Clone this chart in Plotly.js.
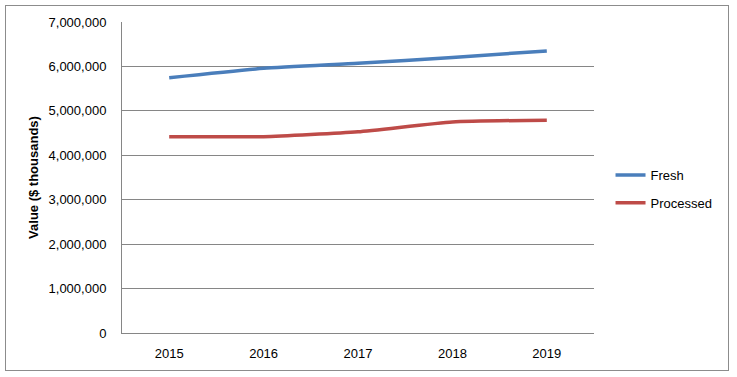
<!DOCTYPE html>
<html>
<head>
<meta charset="utf-8">
<script src="https://cdn.plot.ly/plotly-3.0.1.min.js"></script>
<style>
html,body{margin:0;padding:0;background:#fff;}
#wrap{position:relative;width:737px;height:377px;}
#frame{position:absolute;left:5px;top:5px;width:724px;height:366px;border:1px solid #8c8c8c;box-sizing:border-box;pointer-events:none;}
#chart{position:absolute;left:0;top:0;width:737px;height:377px;}
</style>
</head>
<body>
<div id="wrap">
<div id="chart"></div>
<div id="frame"></div>
</div>
<script>
const years = ['2015','2016','2017','2018','2019'];
const fresh = [5746000, 5957000, 6070000, 6200000, 6350000];
const processed = [4420000, 4420000, 4530000, 4750000, 4790000];
const yTicks = [0,1000000,2000000,3000000,4000000,5000000,6000000,7000000];

const traces = [
  {x: years, y: fresh, name: 'Fresh', type: 'scatter', mode: 'lines',
   line: {color: '#4a7ebb', width: 3.5, shape: 'spline', smoothing: 0.5}, legendgroup: 'a'},
  {x: years, y: processed, name: 'Processed', type: 'scatter', mode: 'lines',
   line: {color: '#be4b48', width: 3.5, shape: 'spline', smoothing: 0.5}, legendgroup: 'b'}
];

const layout = {
  width: 737, height: 377,
  margin: {l: 122, r: 143, t: 22, b: 44},
  paper_bgcolor: '#ffffff', plot_bgcolor: '#ffffff',
  font: {family: 'Liberation Sans, Arial, sans-serif', size: 13, color: '#000'},
  showlegend: true,
  legend: {x: 1.035, y: 0.463, xanchor: 'left', yanchor: 'middle',
           font: {size: 13, color: '#000'}, tracegroupgap: 8, traceorder: 'grouped',
           bgcolor: 'rgba(0,0,0,0)'},
  xaxis: {type: 'category', categoryorder: 'array', categoryarray: years,
          range: [-0.5, 4.5], showgrid: false, zeroline: false,
          showline: true, linecolor: '#868686', linewidth: 1,
          ticks: '', ticklabelstandoff: 8, fixedrange: true},
  yaxis: {range: [0, 7000000], tickvals: yTicks, tickformat: ',d',
          showgrid: true, gridcolor: '#868686', gridwidth: 1, zeroline: false,
          showline: true, linecolor: '#868686', linewidth: 1,
          ticks: '', ticklabelstandoff: 12,
          title: {text: 'Value ($ thousands)', font: {size: 13, color: '#000', weight: 'bold'}, standoff: 7},
          fixedrange: true}
};

Plotly.newPlot('chart', traces, layout, {displayModeBar: false, staticPlot: true});
</script>
</body>
</html>
